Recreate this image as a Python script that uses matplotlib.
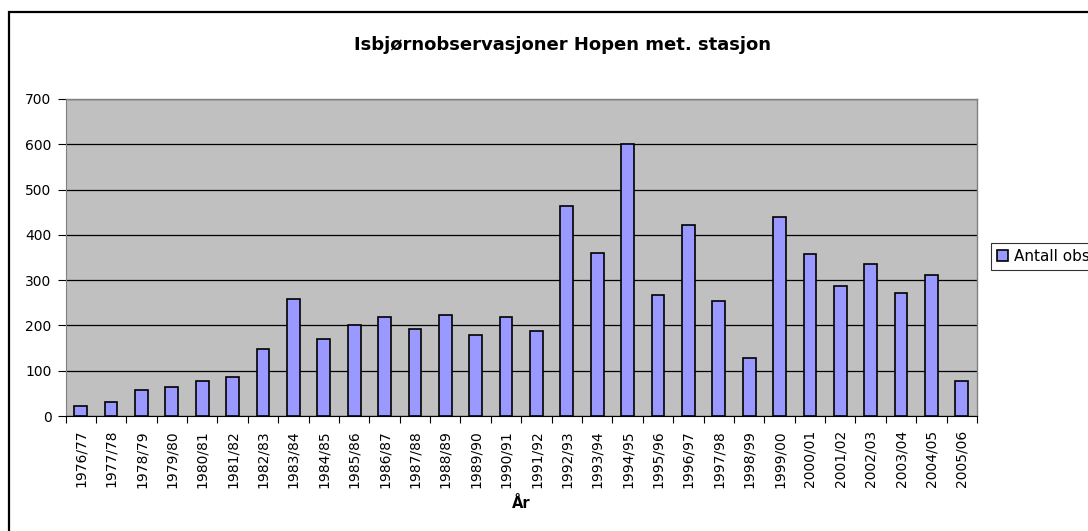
import numpy as np
import matplotlib.pyplot as plt
from matplotlib.patches import Rectangle

# data
sesonger = ["1976/77", "1977/78", "1978/79", "1979/80", "1980/81", "1981/82",
            "1982/83", "1983/84", "1984/85", "1985/86", "1986/87", "1987/88",
            "1988/89", "1989/90", "1990/91", "1991/92", "1992/93", "1993/94",
            "1994/95", "1995/96", "1996/97", "1997/98", "1998/99", "1999/00",
            "2000/01", "2001/02", "2002/03", "2003/04", "2004/05", "2005/06"]
antall_obs = [23, 32, 57, 64, 78, 87, 147, 259, 171, 200, 219, 193,
              222, 179, 219, 187, 464, 361, 600, 268, 421, 254,
              127, 439, 358, 286, 336, 272, 312, 78]
y_ticks = [0, 100, 200, 300, 400, 500, 600, 700]

W, H = 1088, 531
fig = plt.figure(figsize=(W / 100, H / 100), dpi=100)

# ramme rundt hele diagrammet
fig.patches.append(Rectangle((9 / W, -0.1), 1.2, 1 - 12 / H + 0.1,
                             transform=fig.transFigure, fill=False,
                             edgecolor='black', linewidth=1.6))

ax = fig.add_axes([65.5 / W, 1 - 416 / H, (977 - 65.5) / W, (416 - 99) / H])
ax.set_facecolor('#C0C0C0')

x = np.arange(len(sesonger))
ax.bar(x, antall_obs, width=0.42, color='#9999FF', edgecolor='black',
       linewidth=1.2, zorder=3, label='Antall obs')

ax.set_xlim(-0.5, len(sesonger) - 0.5)
ax.set_ylim(0, 700)
ax.set_yticks(y_ticks)
ax.yaxis.grid(True, color='black', linewidth=0.9, zorder=1)
ax.set_axisbelow(True)

# ticks mellom kategoriene, etiketter i midten
ax.set_xticks(np.arange(len(sesonger) + 1) - 0.5)
ax.set_xticklabels([])
ax.set_xticks(x, minor=True)
ax.set_xticklabels(sesonger, minor=True, rotation=90, fontsize=10)
ax.tick_params(axis='x', which='major', length=5, direction='out', color='black')
ax.tick_params(axis='x', which='minor', length=0, pad=10)
ax.tick_params(axis='y', length=6, direction='out', labelsize=10, pad=4)

for s in ['top', 'right']:
    ax.spines[s].set_color('#808080')
    ax.spines[s].set_linewidth(1.0)
ax.spines['left'].set_color('#808080')
ax.spines['bottom'].set_color('black')

fig.text(562 / W, 1 - 45 / H, "Isbjørnobservasjoner Hopen met. stasjon",
         ha='center', va='center', fontsize=13, fontweight='bold')
fig.text(521 / W, 1 - 504 / H, "År", ha='center', va='center',
         fontsize=10.5, fontweight='bold')

leg = ax.legend(loc='upper left', bbox_to_anchor=(991 / W, 1 - 243 / H),
                bbox_transform=fig.transFigure, frameon=True, fancybox=False,
                fontsize=11, handlelength=0.7, handleheight=0.7,
                handletextpad=0.4, borderpad=0.4, borderaxespad=0)
leg.get_frame().set_edgecolor('black')
leg.get_frame().set_linewidth(0.8)

plt.savefig('out.png', dpi=100)
